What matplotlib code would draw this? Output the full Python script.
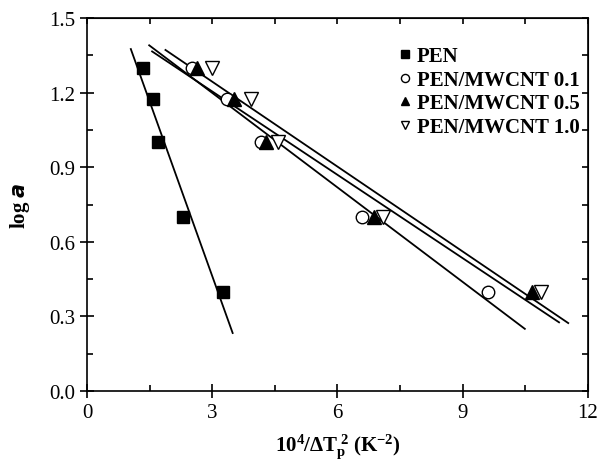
import numpy as np
import matplotlib
matplotlib.use('Agg')
import matplotlib.pyplot as plt
from matplotlib.ticker import MultipleLocator

plt.rcParams['font.family'] = ['Liberation Serif', 'DejaVu Serif']
plt.rcParams['mathtext.fontset'] = 'custom'
plt.rcParams['mathtext.rm'] = 'Liberation Serif'
plt.rcParams['mathtext.bf'] = 'Liberation Serif:bold'
plt.rcParams['mathtext.it'] = 'Liberation Serif:italic'

# log a values (same for every sample)
log_a = [1.301, 1.176, 1.0, 0.699, 0.398]

# 10^4 / dTp^2 for each sample
x_pen = [1.35, 1.57, 1.69, 2.31, 3.25]
x_01 = [2.51, 3.35, 4.16, 6.60, 9.60]
x_05 = [2.63, 3.53, 4.30, 6.87, 10.65]
x_10 = [2.99, 3.93, 4.58, 7.10, 10.87]

labels = ['PEN', 'PEN/MWCNT 0.1', 'PEN/MWCNT 0.5', 'PEN/MWCNT 1.0']
# x-range covered by each fitted line
fit_ranges = [(1.05, 3.49), (1.49, 10.49), (1.56, 11.31), (1.88, 11.53)]

fig = plt.figure(figsize=(6.02, 4.64), dpi=100)
ax = fig.add_axes([0.1445, 0.155, 0.832, 0.804])

styles = [
    dict(marker='s', mfc='black', mec='black', ms=8.5),
    dict(marker='o', mfc='white', mec='black', ms=9, mew=1.0),
    dict(marker='^', mfc='black', mec='black', ms=9.5),
    dict(marker='v', mfc='white', mec='black', ms=9.5, mew=1.0),
]
series = [x_pen, x_01, x_05, x_10]

for xs, lab, st, rng in zip(series, labels, styles, fit_ranges):
    ax.plot(xs, log_a, ls='none', label=lab, **st)
    k, b = np.polyfit(xs, log_a, 1)
    xx = np.array(rng)
    ax.plot(xx, k * xx + b, color='black', lw=1.3, zorder=1)

ax.set_xlim(0, 12)
ax.set_ylim(0, 1.5)
ax.xaxis.set_major_locator(MultipleLocator(3))
ax.xaxis.set_minor_locator(MultipleLocator(1.5))
ax.yaxis.set_major_locator(MultipleLocator(0.3))
ax.yaxis.set_minor_locator(MultipleLocator(0.15))
ax.xaxis.set_major_formatter(plt.FuncFormatter(lambda v, p: f'{v:.0f}'))
ax.yaxis.set_major_formatter(plt.FuncFormatter(lambda v, p: f'{v:.1f}'))

ax.tick_params(which='major', direction='inout', length=10, width=1.2, labelsize=15)
ax.tick_params(which='minor', direction='in', length=4, width=1.2)
for s in ax.spines.values():
    s.set_linewidth(1.2)

top = ax.secondary_xaxis('top')
top.xaxis.set_major_locator(MultipleLocator(1.5))
top.tick_params(direction='in', length=4, width=1.2, labeltop=False)
right = ax.secondary_yaxis('right')
right.yaxis.set_major_locator(MultipleLocator(0.15))
right.tick_params(direction='in', length=4, width=1.2, labelright=False)

ax.set_xlabel(r'$\mathbf{10^4/\Delta T_p^{\ 2}\ (K^{-2})}$', fontsize=15, labelpad=6.5)
ax.set_ylabel(r'$\mathbf{log}\ \boldsymbol{a}$', fontsize=15, labelpad=12)

leg = ax.legend(loc='upper right', bbox_to_anchor=(1.012, 0.963), frameon=False,
                prop=dict(weight='bold', size=15), markerscale=0.65,
                handlelength=0.8, handletextpad=0.15, labelspacing=0.17,
                borderaxespad=0.3)

fig.savefig('out.png', dpi=100)
